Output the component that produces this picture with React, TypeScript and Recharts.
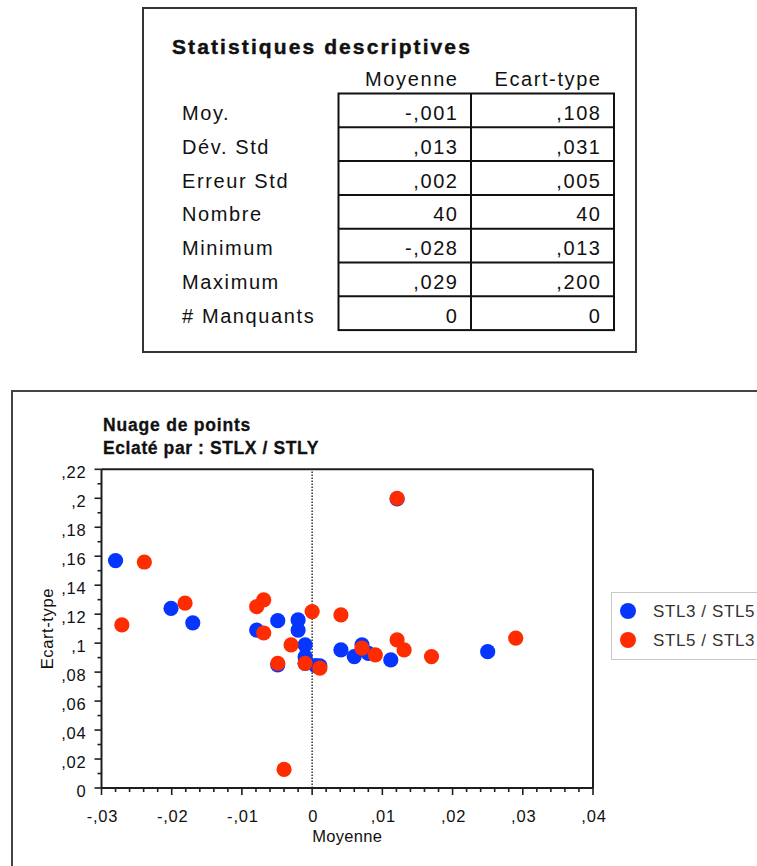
import React from 'react'
import { ScatterChart, Scatter, XAxis, YAxis, ReferenceLine, Legend } from 'recharts'

// Nuage de points : Moyenne (x) / Ecart-type (y), éclaté par STLX / STLY
const SERIES_NAMES = ['STL3 / STL5', 'STL5 / STL3']
const SERIES_COLORS = ['#0635ff', '#ff2c00']

const stl3Moyenne = [
  -0.028, -0.0201, -0.017, -0.0079, -0.0049, -0.002, -0.002, -0.001, -0.001, -0.001,
  -0.0049, 0.0011, 0.0041, 0.006, 0.0071, 0.008, 0.0112, 0.025, 0.0121, 0.0005,
]
const stl3EcartType = [
  0.157, 0.124, 0.114, 0.109, 0.1155, 0.116, 0.109, 0.0988, 0.0905, 0.086,
  0.085, 0.0843, 0.0953, 0.0907, 0.0988, 0.093, 0.0884, 0.0941, 0.1995, 0.0845,
]

const stl5Moyenne = [
  -0.0239, -0.0271, -0.0181, -0.0079, -0.0069, -0.0069, 0.0, 0.0041, -0.003, -0.0049,
  -0.001, 0.0011, 0.0071, 0.009, 0.0121, 0.0131, 0.017, 0.0121, 0.029, -0.004,
]
const stl5EcartType = [
  0.156, 0.1126, 0.1276, 0.1252, 0.1298, 0.107, 0.1218, 0.1195, 0.0988, 0.0861,
  0.0861, 0.0827, 0.0965, 0.0919, 0.1022, 0.0953, 0.0907, 0.2, 0.1034, 0.0128,
]

const X_MAJOR = [-0.03, -0.02, -0.01, 0, 0.01, 0.02, 0.03, 0.04]
const Y_MAJOR = [0, 0.02, 0.04, 0.06, 0.08, 0.1, 0.12, 0.14, 0.16, 0.18, 0.2, 0.22]

// Statistiques descriptives
const STAT_LABELS = ['Moy.', 'Dév. Std', 'Erreur Std', 'Nombre', 'Minimum', 'Maximum', '# Manquants']
const STAT_MOYENNE = ['-,001', ',013', ',002', '40', '-,028', ',029', '0']
const STAT_ECART = [',108', ',031', ',005', '40', ',013', ',200', '0']

const AXIS = '#1e1e1e'
const FONT = '"Liberation Sans", Arial, sans-serif'

const stl3 = stl3Moyenne.map((x, i) => ({ x, y: stl3EcartType[i] }))
const stl5 = stl5Moyenne.map((x, i) => ({ x, y: stl5EcartType[i] }))

// majors + evenly split minor ticks between them
const withMinor = (major: number[], parts: number) => {
  const out: number[] = []
  major.forEach((v, i) => {
    out.push(v)
    if (i < major.length - 1) {
      const step = (major[i + 1] - v) / parts
      for (let k = 1; k < parts; k++) out.push(Math.round((v + step * k) * 100000) / 100000)
    }
  })
  return out
}
const X_TICKS = withMinor(X_MAJOR, 5)
const Y_TICKS = withMinor(Y_MAJOR, 2)

const isMajor = (v: number, majors: number[]) => majors.some((m) => Math.abs(m - v) < 1e-9)

// ",02" / "-,03" / "0"
const fmt = (v: number) =>
  v === 0 ? '0' : (v < 0 ? '-' : '') + String(Math.abs(v)).replace(/^0/, '').replace('.', ',')

const BottomTick = (props: any) => {
  const { x, y, payload } = props
  const major = isMajor(payload.value, X_MAJOR)
  return (
    <g>
      <line x1={x} y1={y} x2={x} y2={y + (major ? 7 : 4)} stroke={AXIS} strokeWidth={1.6} />
      {major && (
        <text x={x + 1} y={y + 33.5} textAnchor="middle" fontSize={16.5} letterSpacing={0.8} fill="#111">
          {fmt(payload.value)}
        </text>
      )}
    </g>
  )
}

const TopTick = (props: any) => {
  const { x, y, payload } = props
  const major = isMajor(payload.value, X_MAJOR)
  return <line x1={x} y1={y} x2={x} y2={y - (major ? 7 : 4)} stroke={AXIS} strokeWidth={1.6} />
}

const LeftTick = (props: any) => {
  const { x, y, payload } = props
  const major = isMajor(payload.value, Y_MAJOR)
  return (
    <g>
      <line x1={x} y1={y} x2={x - (major ? 7 : 4)} y2={y} stroke={AXIS} strokeWidth={1.6} />
      {major && (
        <text x={x - 15} y={y + 8.5} textAnchor="end" fontSize={16.5} letterSpacing={0.8} fill="#111">
          {fmt(payload.value)}
        </text>
      )}
    </g>
  )
}

const RightTick = (props: any) => {
  const { x, y, payload } = props
  const major = isMajor(payload.value, Y_MAJOR)
  return <line x1={x} y1={y} x2={x + (major ? 7 : 4)} y2={y} stroke={AXIS} strokeWidth={1.6} />
}

const dot = (color: string) => (p: any) => <circle cx={p.cx} cy={p.cy} r={7.6} fill={color} />

const LegendBox = (props: any) => {
  const items = props.payload && props.payload.length
    ? props.payload.map((e: any) => ({ name: e.value, color: e.color }))
    : SERIES_NAMES.map((name, i) => ({ name, color: SERIES_COLORS[i] }))
  return (
    <div style={{ width: 160, height: 68, border: '1px solid #c9c9c9', background: '#fff', boxSizing: 'border-box' }}>
      <svg width={158} height={66} style={{ display: 'block' }}>
        {items.map((it: any, i: number) => (
          <g key={it.name}>
            <circle cx={16} cy={18 + 29 * i} r={8} fill={it.color} />
            <text x={41} y={23.7 + 29 * i} fontSize={17} letterSpacing={0.6} fill="#333">
              {it.name}
            </text>
          </g>
        ))}
      </svg>
    </div>
  )
}

const StatsTable = () => {
  const top = 93.5
  const rowH = 33.8
  const left = 338.5
  const mid = 471
  const right = 614
  const bottom = top + rowH * STAT_LABELS.length
  const txt = { fontSize: 20, letterSpacing: 1.6, fill: '#111' }
  return (
    <g>
      <rect x={143} y={8} width={493} height={344} fill="none" stroke="#333" strokeWidth={2} />
      <text
        x={172}
        y={53.5}
        fontSize={21}
        fontWeight="bold"
        letterSpacing={2.1}
        fill="#111"
        stroke="#111"
        strokeWidth={0.45}
      >
        Statistiques descriptives
      </text>
      <text x={458.6} y={86} textAnchor="end" {...txt}>Moyenne</text>
      <text x={601.6} y={86} textAnchor="end" {...txt}>Ecart-type</text>
      <rect x={left} y={top} width={right - left} height={bottom - top} fill="none" stroke="#111" strokeWidth={2} />
      <line x1={mid} y1={top} x2={mid} y2={bottom} stroke="#111" strokeWidth={2} />
      {STAT_LABELS.map((label, i) => {
        const base = top + rowH * (i + 1) - 7.3
        return (
          <g key={label}>
            {i > 0 && <line x1={left} y1={top + rowH * i} x2={right} y2={top + rowH * i} stroke="#111" strokeWidth={2} />}
            <text x={182} y={base} {...txt}>{label}</text>
            <text x={458.6} y={base} textAnchor="end" {...txt}>{STAT_MOYENNE[i]}</text>
            <text x={601.6} y={base} textAnchor="end" {...txt}>{STAT_ECART[i]}</text>
          </g>
        )
      })}
    </g>
  )
}

export default function App() {
  return (
    <div
      style={{
        position: 'absolute',
        left: 0,
        top: 0,
        width: 757,
        height: 866,
        overflow: 'hidden',
        background: '#fff',
        fontFamily: FONT,
      }}
    >
      <svg width={757} height={866} style={{ position: 'absolute', left: 0, top: 0 }}>
        <StatsTable />
        <line x1={12} y1={390} x2={12} y2={866} stroke="#444" strokeWidth={2} />
        <line x1={11} y1={391} x2={757} y2={391} stroke="#444" strokeWidth={2} />
        <text x={103} y={431} fontSize={17.5} fontWeight="bold" letterSpacing={0.8} fill="#111" stroke="#111" strokeWidth={0.3}>
          Nuage de points
        </text>
        <text x={103} y={454} fontSize={17.5} fontWeight="bold" letterSpacing={0.6} fill="#111" stroke="#111" strokeWidth={0.3}>
          Eclaté par : STLX / STLY
        </text>
      </svg>

      <div style={{ position: 'absolute', left: 0, top: 400 }}>
        <ScatterChart width={757} height={466} margin={{ top: 0, right: 137, bottom: 0, left: 0 }}>
          <XAxis
            xAxisId="b"
            type="number"
            dataKey="x"
            orientation="bottom"
            domain={[-0.03, 0.04]}
            ticks={X_TICKS}
            interval={0}
            height={78}
            axisLine={{ stroke: AXIS, strokeWidth: 2 }}
            tickLine={false}
            tickSize={0}
            tickMargin={0}
            tick={BottomTick}
            label={{
              content: (p: any) => (
                <text
                  x={p.viewBox.x + p.viewBox.width / 2}
                  y={p.viewBox.y + 54}
                  textAnchor="middle"
                  fontSize={16.5}
                  letterSpacing={0.3}
                  fill="#111"
                >
                  Moyenne
                </text>
              ),
            }}
          />
          <XAxis
            xAxisId="t"
            type="number"
            orientation="top"
            domain={[-0.03, 0.04]}
            ticks={X_TICKS}
            interval={0}
            height={69.3}
            axisLine={{ stroke: AXIS, strokeWidth: 2 }}
            tickLine={false}
            tickSize={0}
            tickMargin={0}
            tick={TopTick}
          />
          <YAxis
            yAxisId="l"
            type="number"
            dataKey="y"
            orientation="left"
            domain={[0, 0.22]}
            ticks={Y_TICKS}
            interval={0}
            width={101.5}
            axisLine={{ stroke: AXIS, strokeWidth: 2 }}
            tickLine={false}
            tickSize={0}
            tickMargin={0}
            tick={LeftTick}
            label={{
              content: (p: any) => {
                const cy = p.viewBox.y + p.viewBox.height / 2
                return (
                  <text
                    x={47}
                    y={cy}
                    transform={`rotate(-90 47 ${cy})`}
                    textAnchor="middle"
                    dominantBaseline="central"
                    fontSize={16.5}
                    letterSpacing={0.6}
                    fill="#111"
                  >
                    Ecart-type
                  </text>
                )
              },
            }}
          />
          <YAxis
            yAxisId="r"
            type="number"
            orientation="right"
            domain={[0, 0.22]}
            ticks={Y_TICKS}
            interval={0}
            width={27}
            axisLine={{ stroke: AXIS, strokeWidth: 2 }}
            tickLine={false}
            tickSize={0}
            tickMargin={0}
            tick={RightTick}
          />
          <ReferenceLine xAxisId="b" yAxisId="l" x={0} stroke="#333" strokeWidth={1.5} strokeDasharray="1.5 1.5" />
          <Scatter
            xAxisId="b"
            yAxisId="l"
            name={SERIES_NAMES[0]}
            data={stl3}
            fill={SERIES_COLORS[0]}
            shape={dot(SERIES_COLORS[0])}
            isAnimationActive={false}
          />
          <Scatter
            xAxisId="b"
            yAxisId="l"
            name={SERIES_NAMES[1]}
            data={stl5}
            fill={SERIES_COLORS[1]}
            shape={dot(SERIES_COLORS[1])}
            isAnimationActive={false}
          />
          <Legend
            layout="vertical"
            align="center"
            verticalAlign="middle"
            wrapperStyle={{ left: 611, top: 192, width: 160, height: 68 }}
            content={LegendBox}
          />
        </ScatterChart>
      </div>
    </div>
  )
}
